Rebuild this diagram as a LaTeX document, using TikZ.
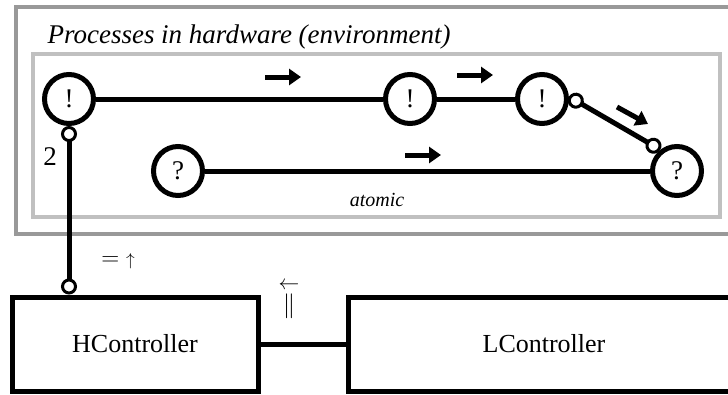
\documentclass[tikz,border=0pt]{standalone}
\usepackage{amsmath}
\usepackage{fontspec}
\setmainfont{Liberation Serif}
\usetikzlibrary{arrows.meta,positioning,calc}
\definecolor{envgray}{RGB}{153,153,153}
\definecolor{atomgray}{RGB}{192,192,192}
\newcommand{\diagfont}{\fontsize{27}{32}\selectfont}

\begin{document}
\begin{tikzpicture}[x=1pt,y=-1pt,
    proc/.style={circle, draw, line width=5pt, minimum size=49pt,
                 inner sep=0pt, font=\diagfont},
    ctrl/.style={draw, line width=5pt, minimum height=94pt,
                 font=\fontsize{26}{31}\selectfont},
    link/.style={line width=5pt},
    port/.style={link, {Circle[open,length=16pt,line width=3pt]}-{Circle[open,length=16pt,line width=3pt]}},
    flow/.style={line width=5pt, -{Triangle[length=12pt,width=16pt]}},
    lbl/.style={font=\diagfont}
]
\useasboundingbox (0,0) rectangle (728,394);

% environment frames
\draw[envgray, line width=4pt] (16,7) rectangle (760,234);
\draw[atomgray, line width=4pt] (33,54) rectangle (720,217);
\node[font=\diagfont\itshape, anchor=base west] (title) at (44,43)
    {Processes in hardware (environment)};

% processes
\node[proc] (b1) at (69,99)  {!};
\node[proc] (b2) at (410,99) {!};
\node[proc] (b3) at (542,99) {!};
\node[proc] (q1) at (178,171) {?};
\node[proc] (q2) at (677,171) {?};

\draw[link] (b1) -- (b2);
\draw[link] (b2) -- (b3);
\draw[link] (q1) -- (q2);
\draw[port] (b3.5) -- (q2.128);

\draw[flow] (265,77) -- (301,77);
\draw[flow] (457,75) -- (493,75);
\draw[flow] (405,155) -- (441,155);
\draw[flow] (617,107) -- (648,124);

\node[font=\fontsize{20}{24}\selectfont\itshape] (atomic) at (377,200) {atomic};
\node[lbl] (two) at (50,157) {2};

% controllers
\node[ctrl, minimum width=246pt] (hc) at (135,344) {HController};
\node[ctrl, minimum width=392pt] (lc) at (544,344) {LController};

\draw[port] (b1.south) -- (b1.south |- hc.north);
\draw[link] (hc) -- (lc);

\node[lbl] (eq) at (118,261) {$=$ {\fontsize{18}{20}\selectfont$\uparrow$}};
\node[font=\fontsize{29}{33}\selectfont, inner sep=0pt] (par) at (289,299)
    {$\overset{\scriptstyle\leftarrow}{\|}$};
\end{tikzpicture}
\end{document}
